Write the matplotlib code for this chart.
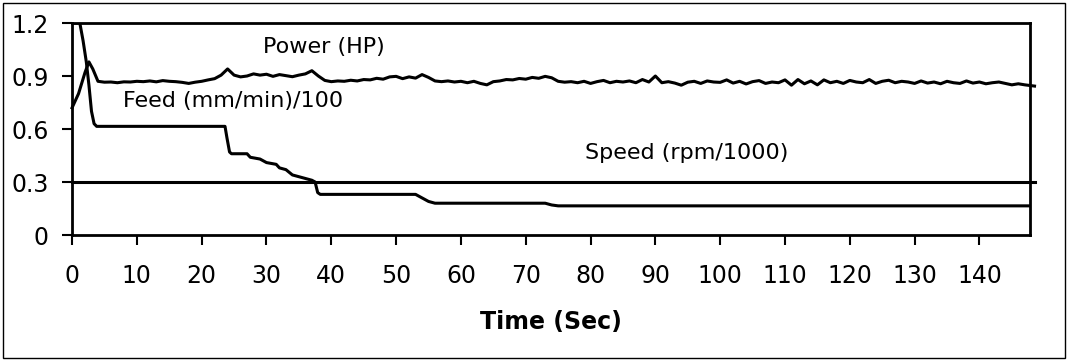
import matplotlib
matplotlib.use("Agg")
import matplotlib.pyplot as plt
from matplotlib.patches import Rectangle

# Power (HP) trace
power_t = [0, 1, 2, 2.6, 3.2, 4] + list(range(5, 149)) + [148.5]
power_v = [0.72, 0.80, 0.92, 0.98, 0.94, 0.87,
           0.865, 0.866, 0.862, 0.867, 0.866, 0.870, 0.868, 0.872, 0.867, 0.874,
           0.870, 0.868, 0.864, 0.858, 0.865, 0.870, 0.878, 0.885, 0.905, 0.940,
           0.905, 0.895, 0.900, 0.912, 0.905, 0.910, 0.898, 0.908, 0.902, 0.896,
           0.905, 0.912, 0.930, 0.900, 0.875, 0.868, 0.872, 0.870, 0.876, 0.872,
           0.880, 0.878, 0.887, 0.882, 0.895, 0.898, 0.885, 0.895, 0.888, 0.908,
           0.892, 0.872, 0.868, 0.872, 0.866, 0.870, 0.862, 0.870, 0.858, 0.850,
           0.868, 0.872, 0.880, 0.878, 0.886, 0.882, 0.892, 0.887, 0.898, 0.890,
           0.870, 0.865, 0.868, 0.862, 0.870, 0.858, 0.868, 0.875, 0.862, 0.870,
           0.866, 0.872, 0.862, 0.880, 0.866, 0.900, 0.862, 0.868, 0.860, 0.848,
           0.865, 0.870, 0.858, 0.872, 0.866, 0.864, 0.878, 0.860, 0.870, 0.855,
           0.868, 0.874, 0.858, 0.866, 0.862, 0.878, 0.848, 0.880, 0.856, 0.872,
           0.850, 0.878, 0.862, 0.870, 0.858, 0.875, 0.866, 0.862, 0.880, 0.858,
           0.870, 0.876, 0.862, 0.870, 0.866, 0.858, 0.872, 0.860, 0.866, 0.856,
           0.870, 0.862, 0.858, 0.872, 0.860, 0.866, 0.856, 0.862, 0.866, 0.858,
           0.850, 0.856, 0.850, 0.845, 0.843]

# Feed (mm/min)/100 steps
feed_t = [0, 1.2, 1.7, 2.2, 2.6, 3.0, 3.4, 3.8, 23.6, 23.9, 24.3, 24.6, 27.0,
          27.5, 29.0, 30.0, 31.5, 32.0, 33.0, 34.0, 35.0, 37.0, 37.5, 37.9,
          38.3, 53.0, 54.0, 55.0, 56.0, 73.0, 74.0, 75.0, 148.5]
feed_v = [1.2, 1.2, 1.1, 0.98, 0.85, 0.70, 0.63, 0.615, 0.615, 0.55, 0.47,
          0.46, 0.46, 0.44, 0.43, 0.41, 0.40, 0.38, 0.37, 0.34, 0.33, 0.31,
          0.30, 0.24, 0.23, 0.23, 0.21, 0.19, 0.18, 0.18, 0.17, 0.165, 0.165]

# Speed (rpm/1000)
speed_t = [0, 148.5]
speed_v = [0.30, 0.30]

x_ticks = list(range(0, 141, 10))
y_ticks = [0, 0.3, 0.6, 0.9, 1.2]
y_tick_labels = ["0", "0.3", "0.6", "0.9", "1.2"]

plt.rcParams["font.family"] = ["DejaVu Sans"]

fig = plt.figure(figsize=(10.69, 3.6), dpi=100)
ax = fig.add_axes([0.0674, 0.3472, 0.8961, 0.5889])

lw = 2.2
ax.plot(power_t, power_v, color="black", linewidth=lw, clip_on=False)
ax.plot(feed_t, feed_v, color="black", linewidth=lw)
ax.plot(speed_t, speed_v, color="black", linewidth=lw, clip_on=False)

ax.set_xlim(0, 147.8)
ax.set_ylim(0, 1.2)
ax.set_xticks(x_ticks)
ax.set_yticks(y_ticks)
ax.set_yticklabels(y_tick_labels)
ax.tick_params(axis="both", direction="out", length=7, width=1.5,
               labelsize=17, colors="black")
ax.tick_params(axis="x", pad=14)
ax.tick_params(axis="y", pad=10)

for side in ["left", "right", "top", "bottom"]:
    ax.spines[side].set_linewidth(2.0)
    ax.spines[side].set_color("black")

ax.set_xlabel("Time (Sec)", fontsize=17, fontweight="bold", labelpad=16)

ax.text(38.8, 1.065, "Power (HP)", fontsize=16, ha="center", va="center")
ax.text(7.8, 0.76, "Feed (mm/min)/100", fontsize=16, ha="left", va="center")
ax.text(94.8, 0.465, "Speed (rpm/1000)", fontsize=16, ha="center", va="center")

# thin frame around the whole picture
fig.patches.append(Rectangle((0.003, 0.006), 0.993, 0.986, transform=fig.transFigure,
                             fill=False, edgecolor="black", linewidth=1.0))

fig.savefig("out.png", dpi=100)
